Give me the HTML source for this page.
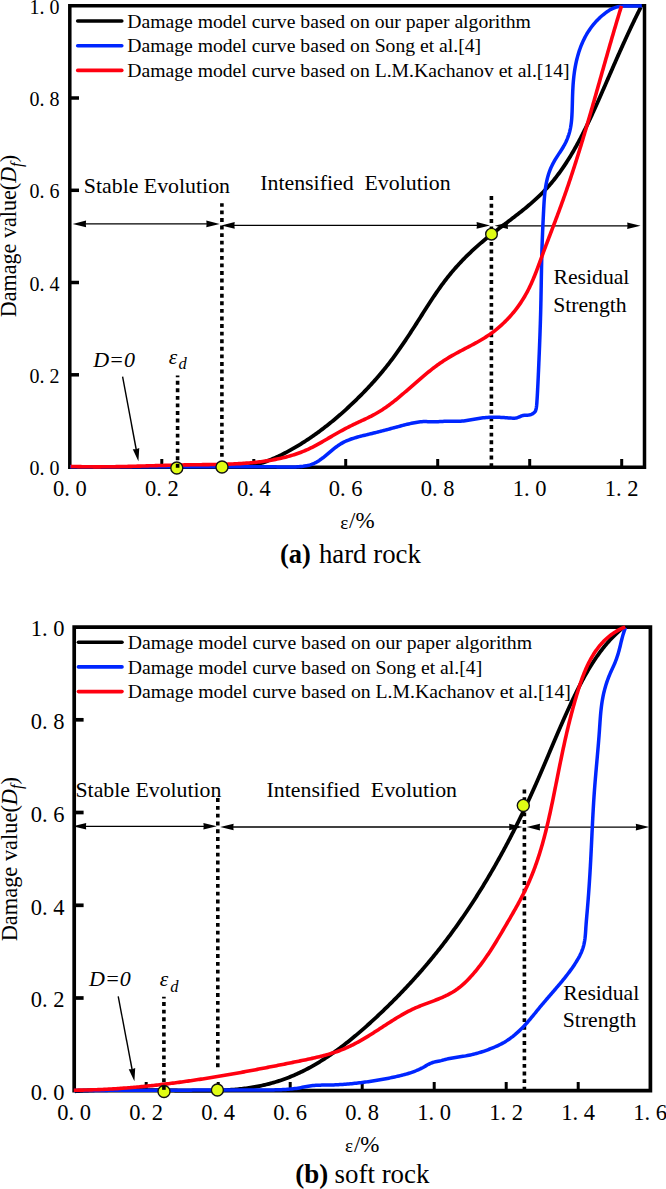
<!DOCTYPE html>
<html><head><meta charset="utf-8"><style>
html,body{margin:0;padding:0;background:#fff;}
body{width:666px;height:1189px;overflow:hidden;}
svg{display:block;}
svg text{font-family:"Liberation Serif", serif;fill:#000;}
</style></head><body>
<svg width="666" height="1189" viewBox="0 0 666 1189">
<path d="M69.8,5.8 H644.5 V467.2 H69.8 Z" fill="none" stroke="#000" stroke-width="3.5"/>
<line x1="161.8" y1="467.2" x2="161.8" y2="459" stroke="#000" stroke-width="3"/>
<line x1="253.8" y1="467.2" x2="253.8" y2="459" stroke="#000" stroke-width="3"/>
<line x1="345.7" y1="467.2" x2="345.7" y2="459" stroke="#000" stroke-width="3"/>
<line x1="437.7" y1="467.2" x2="437.7" y2="459" stroke="#000" stroke-width="3"/>
<line x1="529.7" y1="467.2" x2="529.7" y2="459" stroke="#000" stroke-width="3"/>
<line x1="621.7" y1="467.2" x2="621.7" y2="459" stroke="#000" stroke-width="3"/>
<line x1="69.8" y1="374.8" x2="79" y2="374.8" stroke="#000" stroke-width="3.5"/>
<line x1="69.8" y1="282.5" x2="79" y2="282.5" stroke="#000" stroke-width="3.5"/>
<line x1="69.8" y1="190.3" x2="79" y2="190.3" stroke="#000" stroke-width="3.5"/>
<line x1="69.8" y1="98.0" x2="79" y2="98.0" stroke="#000" stroke-width="3.5"/>
<line x1="177.6" y1="375.4" x2="177.6" y2="467" stroke="#000" stroke-width="3.6" stroke-dasharray="3.9 3.65" stroke-dashoffset="2.15"/>
<line x1="221.9" y1="203.2" x2="221.9" y2="457.2" stroke="#000" stroke-width="3.6" stroke-dasharray="3.9 3.68" stroke-dashoffset="0.38"/>
<line x1="491.4" y1="196.1" x2="491.4" y2="467" stroke="#000" stroke-width="3.6" stroke-dasharray="3.9 3.73" stroke-dashoffset="0.00"/>
<line x1="77.7" y1="223.9" x2="214.7" y2="223.9" stroke="#000" stroke-width="1.3"/><path d="M72.7,223.9 L86.1,220.6 L85.8,223.9 L86.1,227.2 Z" fill="#000"/><path d="M219.7,223.9 L206.3,220.6 L206.6,223.9 L206.3,227.2 Z" fill="#000"/>
<line x1="226.3" y1="225.4" x2="485.0" y2="225.4" stroke="#000" stroke-width="1.3"/><path d="M221.3,225.4 L234.7,222.1 L234.4,225.4 L234.7,228.7 Z" fill="#000"/><path d="M490.0,225.4 L476.6,222.1 L476.9,225.4 L476.6,228.7 Z" fill="#000"/>
<line x1="499.6" y1="225.8" x2="635.6" y2="225.8" stroke="#000" stroke-width="1.3"/><path d="M494.6,225.8 L508.0,222.5 L507.7,225.8 L508.0,229.1 Z" fill="#000"/><path d="M640.6,225.8 L627.2,222.5 L627.5,225.8 L627.2,229.1 Z" fill="#000"/>
<line x1="122.6" y1="376.7" x2="136.4" y2="450.5" stroke="#000" stroke-width="1.4"/><path d="M138.4,461.3 L132.77,449.13 L136.16,449.31 L139.26,447.92 Z" fill="#000"/>
<path d="M70.63,467.03 L72.06,467.03 L73.50,467.02 L74.93,467.01 L76.38,467.01 L77.82,467.00 L79.27,467.00 L80.72,466.99 L82.17,466.99 L83.63,466.98 L85.08,466.98 L86.54,466.98 L88.01,466.98 L89.47,466.98 L90.94,466.98 L92.41,466.97 L93.89,466.97 L95.36,466.97 L96.84,466.98 L98.32,466.98 L99.80,466.98 L101.29,466.98 L102.77,466.98 L104.26,466.98 L105.75,466.98 L107.24,466.99 L108.74,466.99 L110.23,466.99 L111.73,466.99 L113.23,467.00 L114.73,467.00 L116.23,467.00 L117.74,467.01 L119.24,467.01 L120.75,467.01 L122.26,467.01 L123.77,467.02 L125.28,467.02 L126.79,467.02 L128.30,467.02 L129.82,467.02 L131.33,467.03 L132.85,467.03 L134.37,467.03 L135.89,467.03 L137.41,467.03 L138.93,467.03 L140.45,467.03 L141.97,467.03 L143.49,467.03 L145.02,467.03 L146.54,467.03 L148.06,467.03 L149.59,467.03 L151.11,467.02 L152.64,467.02 L154.16,467.02 L155.69,467.01 L157.22,467.01 L158.74,467.00 L160.27,466.99 L161.80,466.99 L163.32,466.98 L164.85,466.97 L166.38,466.96 L167.90,466.95 L169.43,466.94 L170.95,466.93 L172.48,466.92 L174.00,466.91 L175.53,466.89 L177.05,466.88 L178.58,466.86 L180.10,466.85 L181.62,466.83 L183.14,466.81 L184.66,466.79 L186.19,466.77 L187.70,466.75 L189.22,466.73 L190.74,466.70 L192.26,466.68 L193.77,466.66 L195.29,466.63 L196.80,466.61 L198.31,466.59 L199.82,466.57 L201.33,466.55 L202.84,466.53 L204.35,466.52 L205.86,466.51 L207.36,466.51 L208.86,466.51 L210.36,466.51 L211.86,466.52 L213.36,466.54 L214.86,466.56 L216.35,466.59 L217.84,466.62 L219.33,466.67 L220.82,466.72 L222.31,466.77 L223.79,466.82 L225.27,466.87 L226.75,466.93 L228.23,466.97 L229.71,467.01 L231.18,467.04 L232.65,467.07 L234.12,467.07 L235.59,467.07 L237.05,467.05 L238.51,467.01 L239.97,466.95 L241.42,466.87 L242.88,466.76 L244.33,466.63 L245.77,466.48 L247.22,466.29 L248.66,466.07 L250.10,465.83 L251.53,465.57 L252.97,465.27 L254.39,464.96 L255.82,464.61 L257.24,464.25 L258.66,463.86 L260.08,463.45 L261.49,463.02 L262.90,462.57 L264.31,462.09 L265.71,461.60 L267.11,461.09 L268.50,460.56 L269.89,460.01 L271.28,459.45 L272.66,458.87 L274.04,458.28 L275.42,457.67 L276.79,457.04 L278.16,456.41 L279.52,455.76 L280.88,455.10 L282.24,454.42 L283.59,453.74 L284.94,453.04 L286.28,452.34 L287.62,451.63 L288.95,450.91 L290.28,450.18 L291.61,449.44 L292.93,448.69 L294.24,447.93 L295.56,447.17 L296.86,446.40 L298.17,445.62 L299.46,444.83 L300.76,444.03 L302.05,443.23 L303.33,442.41 L304.61,441.59 L305.89,440.77 L307.16,439.93 L308.43,439.09 L309.69,438.24 L310.95,437.39 L312.20,436.52 L313.45,435.65 L314.69,434.78 L315.93,433.89 L317.17,433.01 L318.39,432.11 L319.62,431.21 L320.84,430.30 L322.06,429.39 L323.27,428.47 L324.47,427.54 L325.67,426.61 L326.87,425.68 L328.06,424.73 L329.25,423.79 L330.43,422.84 L331.61,421.88 L332.78,420.92 L333.95,419.95 L335.11,418.98 L336.27,418.00 L337.42,417.02 L338.57,416.04 L339.71,415.05 L340.85,414.06 L341.98,413.06 L343.11,412.06 L344.23,411.05 L345.35,410.05 L346.46,409.03 L347.57,408.02 L348.67,407.00 L349.77,405.98 L350.86,404.95 L351.95,403.93 L353.03,402.90 L354.11,401.86 L355.18,400.83 L356.24,399.79 L357.31,398.75 L358.36,397.70 L359.41,396.66 L360.46,395.61 L361.50,394.56 L362.54,393.51 L363.57,392.45 L364.59,391.39 L365.62,390.33 L366.63,389.26 L367.64,388.19 L368.65,387.12 L369.65,386.05 L370.65,384.97 L371.65,383.88 L372.63,382.79 L373.62,381.70 L374.60,380.61 L375.57,379.51 L376.54,378.40 L377.51,377.29 L378.47,376.18 L379.43,375.06 L380.39,373.93 L381.34,372.80 L382.28,371.67 L383.22,370.53 L384.16,369.38 L385.10,368.23 L386.03,367.07 L386.95,365.91 L387.88,364.74 L388.80,363.56 L389.71,362.38 L390.62,361.19 L391.53,360.00 L392.43,358.80 L393.34,357.59 L394.23,356.38 L395.13,355.15 L396.02,353.93 L396.91,352.69 L397.79,351.45 L398.67,350.21 L399.55,348.96 L400.42,347.71 L401.30,346.45 L402.16,345.18 L403.03,343.92 L403.89,342.65 L404.75,341.37 L405.61,340.09 L406.46,338.81 L407.32,337.53 L408.16,336.25 L409.01,334.96 L409.85,333.67 L410.70,332.38 L411.53,331.09 L412.37,329.80 L413.20,328.51 L414.04,327.22 L414.86,325.93 L415.69,324.64 L416.52,323.35 L417.34,322.06 L418.16,320.77 L418.98,319.49 L419.79,318.20 L420.61,316.92 L421.42,315.64 L422.23,314.37 L423.04,313.09 L423.85,311.82 L424.65,310.55 L425.46,309.29 L426.27,308.03 L427.07,306.77 L427.88,305.51 L428.69,304.26 L429.50,303.01 L430.31,301.77 L431.12,300.52 L431.94,299.28 L432.76,298.05 L433.58,296.82 L434.40,295.59 L435.23,294.36 L436.06,293.14 L436.89,291.93 L437.73,290.71 L438.58,289.51 L439.43,288.30 L440.28,287.10 L441.14,285.90 L442.01,284.71 L442.89,283.52 L443.77,282.34 L444.65,281.16 L445.55,279.99 L446.45,278.82 L447.36,277.65 L448.28,276.49 L449.21,275.33 L450.15,274.18 L451.09,273.03 L452.05,271.89 L453.01,270.76 L453.99,269.62 L454.97,268.50 L455.96,267.38 L456.96,266.26 L457.96,265.15 L458.98,264.04 L460.00,262.94 L461.03,261.85 L462.06,260.76 L463.11,259.68 L464.16,258.60 L465.22,257.53 L466.29,256.46 L467.36,255.40 L468.44,254.35 L469.53,253.30 L470.62,252.26 L471.72,251.22 L472.82,250.19 L473.94,249.16 L475.05,248.15 L476.18,247.14 L477.31,246.13 L478.44,245.13 L479.58,244.14 L480.73,243.16 L481.88,242.18 L483.03,241.21 L484.20,240.24 L485.36,239.28 L486.53,238.33 L487.70,237.38 L488.88,236.43 L490.06,235.49 L491.24,234.56 L492.43,233.62 L493.61,232.70 L494.80,231.77 L496.00,230.85 L497.19,229.93 L498.38,229.02 L499.58,228.10 L500.78,227.19 L501.98,226.28 L503.17,225.37 L504.37,224.46 L505.57,223.55 L506.77,222.65 L507.96,221.74 L509.16,220.83 L510.36,219.92 L511.55,219.01 L512.74,218.10 L513.93,217.19 L515.12,216.28 L516.30,215.36 L517.48,214.45 L518.66,213.52 L519.84,212.60 L521.01,211.67 L522.17,210.74 L523.34,209.81 L524.50,208.87 L525.65,207.93 L526.80,206.98 L527.94,206.02 L529.08,205.07 L530.21,204.10 L531.34,203.13 L532.46,202.15 L533.57,201.17 L534.68,200.18 L535.78,199.18 L536.87,198.17 L537.95,197.16 L539.03,196.14 L540.09,195.11 L541.15,194.07 L542.20,193.02 L543.24,191.96 L544.28,190.90 L545.30,189.82 L546.31,188.73 L547.31,187.64 L548.31,186.53 L549.29,185.41 L550.27,184.28 L551.23,183.15 L552.19,182.00 L553.14,180.85 L554.08,179.69 L555.01,178.52 L555.93,177.34 L556.84,176.15 L557.75,174.96 L558.64,173.75 L559.53,172.54 L560.41,171.32 L561.28,170.10 L562.15,168.86 L563.01,167.62 L563.85,166.37 L564.70,165.12 L565.53,163.86 L566.36,162.59 L567.18,161.32 L567.99,160.04 L568.80,158.76 L569.60,157.46 L570.39,156.17 L571.17,154.87 L571.95,153.56 L572.73,152.25 L573.49,150.93 L574.25,149.61 L575.01,148.29 L575.75,146.96 L576.50,145.62 L577.23,144.28 L577.97,142.94 L578.69,141.60 L579.41,140.25 L580.13,138.90 L580.84,137.54 L581.54,136.18 L582.24,134.82 L582.93,133.46 L583.62,132.09 L584.31,130.73 L584.99,129.36 L585.67,127.98 L586.34,126.61 L587.01,125.24 L587.67,123.86 L588.33,122.48 L588.99,121.10 L589.64,119.72 L590.29,118.34 L590.93,116.96 L591.57,115.58 L592.21,114.20 L592.85,112.82 L593.48,111.44 L594.11,110.06 L594.73,108.68 L595.36,107.30 L595.98,105.92 L596.60,104.54 L597.21,103.16 L597.83,101.79 L598.44,100.42 L599.05,99.04 L599.65,97.67 L600.26,96.31 L600.86,94.94 L601.46,93.57 L602.06,92.21 L602.66,90.85 L603.26,89.49 L603.86,88.13 L604.45,86.77 L605.05,85.41 L605.64,84.05 L606.23,82.70 L606.82,81.34 L607.41,79.99 L608.00,78.63 L608.59,77.28 L609.18,75.93 L609.77,74.57 L610.36,73.22 L610.95,71.87 L611.55,70.52 L612.14,69.17 L612.73,67.82 L613.32,66.46 L613.91,65.11 L614.50,63.76 L615.10,62.41 L615.69,61.06 L616.29,59.70 L616.88,58.35 L617.48,57.00 L618.08,55.64 L618.68,54.29 L619.29,52.93 L619.89,51.57 L620.50,50.21 L621.11,48.86 L621.72,47.50 L622.33,46.13 L622.94,44.77 L623.56,43.41 L624.18,42.04 L624.80,40.67 L625.43,39.31 L626.06,37.94 L626.69,36.56 L627.32,35.19 L627.96,33.81 L628.60,32.44 L629.25,31.06 L629.89,29.67 L630.54,28.29 L631.20,26.90 L631.86,25.51 L632.52,24.12 L633.19,22.73 L633.86,21.33 L634.53,19.93 L635.21,18.53 L635.90,17.12 L636.59,15.72 L637.28,14.31 L637.98,12.89 L638.68,11.48 L639.39,10.05 L640.10,8.63 L640.82,7.20" fill="none" stroke="#000" stroke-width="3.8" stroke-linejoin="round"/>
<path d="M70.07,466.83 L71.56,466.82 L73.06,466.82 L74.55,466.82 L76.04,466.81 L77.54,466.81 L79.03,466.81 L80.53,466.80 L82.03,466.80 L83.52,466.80 L85.02,466.80 L86.52,466.79 L88.02,466.79 L89.51,466.79 L91.01,466.79 L92.51,466.79 L94.01,466.79 L95.51,466.79 L97.01,466.78 L98.51,466.78 L100.01,466.78 L101.51,466.78 L103.02,466.78 L104.52,466.78 L106.02,466.78 L107.52,466.78 L109.03,466.78 L110.53,466.78 L112.03,466.78 L113.53,466.78 L115.04,466.78 L116.54,466.78 L118.05,466.78 L119.55,466.78 L121.05,466.78 L122.56,466.79 L124.06,466.79 L125.57,466.79 L127.07,466.79 L128.58,466.79 L130.08,466.79 L131.59,466.79 L133.10,466.79 L134.60,466.79 L136.11,466.80 L137.61,466.80 L139.12,466.80 L140.62,466.80 L142.13,466.80 L143.64,466.80 L145.14,466.80 L146.65,466.80 L148.15,466.81 L149.66,466.81 L151.17,466.81 L152.67,466.81 L154.18,466.81 L155.68,466.81 L157.19,466.81 L158.69,466.82 L160.20,466.82 L161.71,466.82 L163.21,466.82 L164.72,466.82 L166.22,466.82 L167.73,466.82 L169.23,466.82 L170.74,466.82 L172.24,466.82 L173.75,466.82 L175.25,466.83 L176.75,466.83 L178.26,466.83 L179.76,466.83 L181.26,466.83 L182.77,466.83 L184.27,466.83 L185.77,466.83 L187.28,466.83 L188.78,466.83 L190.28,466.83 L191.78,466.82 L193.28,466.82 L194.78,466.82 L196.29,466.82 L197.79,466.82 L199.29,466.82 L200.79,466.82 L202.28,466.82 L203.78,466.81 L205.28,466.81 L206.78,466.81 L208.28,466.81 L209.78,466.81 L211.27,466.80 L212.77,466.80 L214.27,466.80 L215.76,466.79 L217.26,466.79 L218.75,466.79 L220.25,466.78 L221.74,466.78 L223.24,466.78 L224.73,466.77 L226.23,466.77 L227.72,466.77 L229.22,466.76 L230.71,466.76 L232.21,466.76 L233.70,466.75 L235.20,466.75 L236.70,466.75 L238.19,466.75 L239.69,466.75 L241.19,466.74 L242.69,466.74 L244.18,466.74 L245.68,466.74 L247.18,466.74 L248.69,466.74 L250.19,466.74 L251.69,466.75 L253.19,466.75 L254.70,466.75 L256.20,466.75 L257.71,466.76 L259.22,466.76 L260.73,466.77 L262.24,466.78 L263.75,466.78 L265.26,466.79 L266.78,466.80 L268.29,466.81 L269.81,466.82 L271.33,466.83 L272.85,466.84 L274.37,466.85 L275.89,466.87 L277.42,466.88 L278.95,466.90 L280.48,466.91 L282.01,466.93 L283.54,466.95 L285.07,466.97 L286.61,466.98 L288.14,466.99 L289.67,467.00 L291.20,466.99 L292.72,466.97 L294.23,466.94 L295.74,466.89 L297.25,466.82 L298.74,466.72 L300.22,466.61 L301.69,466.47 L303.15,466.30 L304.59,466.09 L306.02,465.85 L307.44,465.56 L308.83,465.22 L310.21,464.83 L311.57,464.38 L312.91,463.87 L314.23,463.29 L315.52,462.66 L316.80,461.96 L318.06,461.21 L319.31,460.41 L320.54,459.56 L321.76,458.68 L322.97,457.77 L324.17,456.82 L325.36,455.86 L326.55,454.88 L327.74,453.88 L328.93,452.88 L330.12,451.87 L331.31,450.87 L332.50,449.88 L333.71,448.90 L334.92,447.94 L336.14,447.01 L337.37,446.10 L338.62,445.23 L339.88,444.39 L341.16,443.61 L342.46,442.86 L343.77,442.17 L345.10,441.51 L346.45,440.90 L347.81,440.32 L349.18,439.78 L350.57,439.26 L351.97,438.78 L353.37,438.32 L354.79,437.88 L356.21,437.46 L357.64,437.06 L359.08,436.67 L360.52,436.30 L361.96,435.93 L363.41,435.57 L364.86,435.21 L366.31,434.86 L367.76,434.50 L369.21,434.14 L370.66,433.79 L372.11,433.43 L373.56,433.07 L375.01,432.71 L376.46,432.34 L377.92,431.98 L379.37,431.61 L380.82,431.24 L382.28,430.87 L383.73,430.49 L385.19,430.11 L386.65,429.73 L388.11,429.34 L389.56,428.95 L391.02,428.56 L392.48,428.16 L393.95,427.77 L395.41,427.37 L396.87,426.97 L398.34,426.58 L399.80,426.19 L401.27,425.80 L402.74,425.42 L404.20,425.04 L405.67,424.67 L407.14,424.31 L408.62,423.96 L410.09,423.62 L411.56,423.29 L413.03,422.98 L414.51,422.68 L415.98,422.41 L417.46,422.17 L418.94,421.97 L420.42,421.80 L421.90,421.68 L423.38,421.61 L424.86,421.59 L426.34,421.61 L427.82,421.65 L429.31,421.71 L430.79,421.76 L432.28,421.81 L433.76,421.83 L435.25,421.82 L436.74,421.78 L438.23,421.71 L439.72,421.62 L441.21,421.52 L442.70,421.43 L444.20,421.35 L445.69,421.29 L447.18,421.26 L448.68,421.26 L450.17,421.28 L451.67,421.31 L453.16,421.34 L454.66,421.36 L456.16,421.36 L457.65,421.35 L459.15,421.29 L460.65,421.21 L462.15,421.08 L463.65,420.92 L465.14,420.74 L466.64,420.53 L468.14,420.30 L469.64,420.06 L471.14,419.81 L472.64,419.55 L474.14,419.28 L475.63,419.01 L477.13,418.75 L478.63,418.50 L480.13,418.26 L481.63,418.04 L483.13,417.84 L484.62,417.66 L486.12,417.51 L487.62,417.39 L489.11,417.30 L490.61,417.24 L492.10,417.20 L493.59,417.19 L495.09,417.20 L496.58,417.23 L498.07,417.28 L499.55,417.34 L501.04,417.41 L502.52,417.50 L504.01,417.59 L505.49,417.70 L506.96,417.80 L508.44,417.91 L509.91,418.02 L511.38,418.12 L512.84,418.18 L514.31,418.16 L515.76,418.02 L517.22,417.71 L518.67,417.20 L520.12,416.54 L521.56,415.91 L523.00,415.51 L524.44,415.31 L525.87,415.22 L527.29,415.15 L528.72,415.02 L530.13,414.76 L531.54,414.30 L532.91,413.60 L534.13,412.70 L535.07,411.61 L535.70,410.36 L536.10,408.99 L536.37,407.51 L536.57,405.96 L536.73,404.37 L536.86,402.76 L536.96,401.17 L537.06,399.60 L537.16,398.06 L537.25,396.55 L537.34,395.05 L537.42,393.57 L537.50,392.10 L537.58,390.63 L537.65,389.16 L537.73,387.69 L537.80,386.21 L537.88,384.73 L537.95,383.24 L538.02,381.75 L538.09,380.25 L538.16,378.75 L538.23,377.25 L538.30,375.75 L538.36,374.24 L538.43,372.73 L538.50,371.22 L538.56,369.71 L538.63,368.20 L538.69,366.69 L538.76,365.18 L538.82,363.67 L538.88,362.16 L538.95,360.65 L539.01,359.14 L539.07,357.64 L539.13,356.13 L539.20,354.63 L539.26,353.12 L539.32,351.62 L539.38,350.12 L539.44,348.62 L539.50,347.12 L539.56,345.61 L539.61,344.11 L539.67,342.62 L539.73,341.12 L539.78,339.62 L539.84,338.12 L539.89,336.62 L539.95,335.12 L540.00,333.63 L540.05,332.13 L540.10,330.63 L540.15,329.14 L540.20,327.64 L540.25,326.14 L540.30,324.64 L540.35,323.15 L540.39,321.65 L540.44,320.15 L540.48,318.66 L540.52,317.16 L540.57,315.66 L540.61,314.16 L540.65,312.66 L540.69,311.16 L540.72,309.67 L540.76,308.17 L540.79,306.67 L540.83,305.16 L540.86,303.66 L540.89,302.16 L540.93,300.66 L540.96,299.16 L540.99,297.65 L541.01,296.15 L541.04,294.65 L541.07,293.14 L541.10,291.64 L541.13,290.13 L541.15,288.63 L541.18,287.12 L541.21,285.62 L541.23,284.11 L541.26,282.60 L541.28,281.10 L541.31,279.59 L541.34,278.09 L541.36,276.58 L541.39,275.07 L541.42,273.57 L541.45,272.06 L541.48,270.55 L541.50,269.04 L541.53,267.54 L541.56,266.03 L541.60,264.52 L541.63,263.02 L541.66,261.51 L541.70,260.00 L541.73,258.50 L541.77,256.99 L541.81,255.48 L541.84,253.98 L541.88,252.47 L541.93,250.97 L541.97,249.46 L542.01,247.96 L542.06,246.45 L542.11,244.95 L542.16,243.44 L542.21,241.94 L542.27,240.44 L542.32,238.93 L542.38,237.43 L542.44,235.93 L542.50,234.42 L542.56,232.92 L542.62,231.42 L542.69,229.92 L542.76,228.42 L542.82,226.92 L542.89,225.42 L542.96,223.92 L543.03,222.43 L543.10,220.93 L543.18,219.43 L543.25,217.94 L543.32,216.44 L543.40,214.94 L543.47,213.45 L543.55,211.96 L543.63,210.46 L543.70,208.97 L543.78,207.48 L543.86,205.99 L543.94,204.50 L544.03,203.01 L544.12,201.53 L544.23,200.04 L544.34,198.55 L544.46,197.07 L544.59,195.58 L544.73,194.10 L544.89,192.62 L545.06,191.14 L545.25,189.66 L545.46,188.18 L545.68,186.70 L545.93,185.22 L546.19,183.75 L546.48,182.27 L546.79,180.80 L547.13,179.33 L547.50,177.86 L547.89,176.40 L548.32,174.94 L548.77,173.49 L549.26,172.05 L549.79,170.62 L550.35,169.20 L550.95,167.79 L551.58,166.40 L552.25,165.02 L552.95,163.65 L553.67,162.30 L554.42,160.97 L555.18,159.66 L555.96,158.37 L556.75,157.10 L557.55,155.85 L558.36,154.62 L559.16,153.40 L559.96,152.19 L560.76,150.98 L561.55,149.75 L562.33,148.51 L563.09,147.25 L563.83,145.97 L564.56,144.64 L565.26,143.29 L565.93,141.92 L566.57,140.51 L567.18,139.10 L567.75,137.66 L568.28,136.22 L568.77,134.77 L569.21,133.32 L569.61,131.86 L569.97,130.40 L570.30,128.94 L570.59,127.47 L570.84,126.00 L571.07,124.53 L571.27,123.06 L571.44,121.58 L571.59,120.10 L571.71,118.62 L571.82,117.13 L571.91,115.65 L571.99,114.16 L572.06,112.67 L572.12,111.17 L572.17,109.68 L572.21,108.18 L572.26,106.69 L572.30,105.19 L572.34,103.69 L572.38,102.19 L572.42,100.69 L572.46,99.18 L572.50,97.68 L572.55,96.18 L572.60,94.67 L572.66,93.16 L572.72,91.66 L572.79,90.15 L572.87,88.65 L572.95,87.14 L573.04,85.63 L573.14,84.13 L573.26,82.62 L573.38,81.11 L573.52,79.61 L573.67,78.10 L573.83,76.60 L574.01,75.10 L574.20,73.60 L574.41,72.10 L574.63,70.61 L574.86,69.11 L575.11,67.62 L575.38,66.14 L575.67,64.66 L575.97,63.18 L576.29,61.71 L576.62,60.24 L576.98,58.79 L577.35,57.33 L577.74,55.88 L578.15,54.44 L578.58,53.01 L579.03,51.59 L579.50,50.17 L579.99,48.76 L580.50,47.36 L581.03,45.98 L581.58,44.60 L582.16,43.23 L582.76,41.87 L583.38,40.52 L584.02,39.19 L584.69,37.86 L585.38,36.55 L586.10,35.25 L586.84,33.97 L587.60,32.69 L588.39,31.43 L589.21,30.19 L590.05,28.96 L590.92,27.75 L591.82,26.55 L592.74,25.36 L593.70,24.20 L594.67,23.05 L595.68,21.92 L596.71,20.80 L597.77,19.71 L598.86,18.63 L599.97,17.58 L601.10,16.55 L602.26,15.54 L603.44,14.55 L604.65,13.59 L605.87,12.66 L607.12,11.76 L608.39,10.90 L609.67,10.10 L610.98,9.35 L612.31,8.68 L613.65,8.08 L615.01,7.56 L616.39,7.13 L617.79,6.78 L619.20,6.51 L620.63,6.31 L622.07,6.16 L623.52,6.06 L624.99,6.01 L626.47,5.98 L627.97,5.98 L629.47,6.00 L630.99,6.02 L632.51,6.04 L634.05,6.05 L635.60,6.04 L637.15,6.00 L638.71,5.93 L640.28,5.81 L641.86,5.64" fill="none" stroke="#0026ff" stroke-width="3.5" stroke-linejoin="round"/>
<path d="M70.57,466.38 L72.01,466.43 L73.46,466.48 L74.92,466.52 L76.37,466.57 L77.83,466.60 L79.29,466.64 L80.75,466.67 L82.21,466.70 L83.67,466.73 L85.14,466.75 L86.61,466.77 L88.08,466.79 L89.55,466.80 L91.02,466.81 L92.50,466.82 L93.98,466.83 L95.45,466.83 L96.93,466.83 L98.42,466.83 L99.90,466.83 L101.39,466.82 L102.87,466.81 L104.36,466.80 L105.85,466.79 L107.34,466.78 L108.83,466.76 L110.33,466.74 L111.82,466.72 L113.32,466.70 L114.82,466.68 L116.31,466.65 L117.81,466.62 L119.32,466.60 L120.82,466.57 L122.32,466.54 L123.83,466.50 L125.33,466.47 L126.84,466.44 L128.34,466.40 L129.85,466.36 L131.36,466.33 L132.87,466.29 L134.38,466.25 L135.89,466.21 L137.41,466.17 L138.92,466.13 L140.43,466.08 L141.95,466.04 L143.46,466.00 L144.98,465.96 L146.50,465.91 L148.01,465.87 L149.53,465.82 L151.05,465.78 L152.57,465.74 L154.09,465.69 L155.60,465.65 L157.12,465.60 L158.64,465.56 L160.16,465.52 L161.68,465.47 L163.21,465.43 L164.73,465.39 L166.25,465.35 L167.77,465.31 L169.29,465.27 L170.81,465.23 L172.33,465.19 L173.85,465.15 L175.37,465.12 L176.89,465.08 L178.42,465.04 L179.94,465.01 L181.46,464.98 L182.98,464.95 L184.50,464.92 L186.02,464.89 L187.54,464.86 L189.06,464.84 L190.58,464.81 L192.09,464.79 L193.61,464.77 L195.13,464.75 L196.65,464.73 L198.16,464.71 L199.68,464.69 L201.20,464.68 L202.71,464.66 L204.22,464.64 L205.74,464.62 L207.25,464.60 L208.76,464.58 L210.27,464.56 L211.79,464.54 L213.29,464.51 L214.80,464.49 L216.31,464.46 L217.82,464.43 L219.32,464.40 L220.83,464.36 L222.33,464.32 L223.84,464.28 L225.34,464.24 L226.84,464.19 L228.34,464.14 L229.84,464.08 L231.33,464.03 L232.83,463.96 L234.32,463.90 L235.82,463.82 L237.31,463.75 L238.80,463.66 L240.29,463.58 L241.77,463.48 L243.26,463.39 L244.74,463.28 L246.23,463.17 L247.71,463.06 L249.19,462.93 L250.67,462.80 L252.14,462.67 L253.62,462.52 L255.09,462.37 L256.56,462.21 L258.03,462.05 L259.50,461.87 L260.96,461.69 L262.43,461.50 L263.89,461.30 L265.35,461.09 L266.81,460.87 L268.26,460.65 L269.71,460.41 L271.17,460.16 L272.61,459.91 L274.06,459.64 L275.51,459.37 L276.95,459.08 L278.39,458.78 L279.83,458.48 L281.26,458.16 L282.70,457.83 L284.13,457.48 L285.56,457.13 L286.98,456.76 L288.41,456.38 L289.83,455.98 L291.25,455.57 L292.66,455.14 L294.08,454.70 L295.49,454.24 L296.90,453.76 L298.30,453.27 L299.71,452.76 L301.11,452.23 L302.51,451.68 L303.90,451.12 L305.29,450.53 L306.68,449.92 L308.07,449.29 L309.46,448.64 L310.84,447.97 L312.22,447.28 L313.59,446.58 L314.97,445.86 L316.34,445.12 L317.71,444.38 L319.07,443.62 L320.43,442.85 L321.79,442.08 L323.15,441.30 L324.50,440.51 L325.85,439.73 L327.20,438.94 L328.54,438.15 L329.88,437.37 L331.22,436.59 L332.56,435.81 L333.89,435.04 L335.22,434.28 L336.55,433.52 L337.87,432.78 L339.19,432.04 L340.51,431.30 L341.83,430.58 L343.15,429.86 L344.47,429.15 L345.79,428.45 L347.11,427.76 L348.43,427.08 L349.75,426.41 L351.07,425.74 L352.39,425.09 L353.72,424.45 L355.04,423.82 L356.37,423.19 L357.69,422.57 L359.02,421.95 L360.35,421.34 L361.67,420.73 L363.00,420.11 L364.32,419.50 L365.64,418.88 L366.96,418.25 L368.27,417.61 L369.58,416.97 L370.89,416.31 L372.19,415.64 L373.49,414.95 L374.78,414.25 L376.06,413.52 L377.34,412.78 L378.61,412.03 L379.88,411.26 L381.14,410.47 L382.39,409.66 L383.63,408.85 L384.87,408.01 L386.09,407.17 L387.31,406.31 L388.53,405.44 L389.73,404.56 L390.93,403.66 L392.11,402.76 L393.29,401.84 L394.47,400.92 L395.64,399.99 L396.80,399.05 L397.96,398.10 L399.11,397.14 L400.26,396.18 L401.41,395.21 L402.56,394.23 L403.70,393.25 L404.84,392.26 L405.98,391.27 L407.12,390.28 L408.26,389.29 L409.41,388.29 L410.55,387.29 L411.69,386.29 L412.84,385.29 L413.98,384.28 L415.13,383.28 L416.28,382.28 L417.43,381.28 L418.58,380.29 L419.74,379.29 L420.89,378.30 L422.05,377.31 L423.22,376.33 L424.38,375.35 L425.55,374.38 L426.72,373.41 L427.90,372.45 L429.08,371.50 L430.26,370.55 L431.45,369.62 L432.64,368.69 L433.84,367.77 L435.04,366.86 L436.25,365.96 L437.46,365.07 L438.68,364.20 L439.90,363.33 L441.13,362.48 L442.36,361.64 L443.60,360.82 L444.85,360.01 L446.10,359.21 L447.36,358.43 L448.63,357.66 L449.90,356.91 L451.18,356.16 L452.46,355.43 L453.74,354.70 L455.03,353.99 L456.32,353.28 L457.62,352.58 L458.91,351.88 L460.21,351.19 L461.52,350.51 L462.82,349.82 L464.12,349.14 L465.43,348.46 L466.73,347.77 L468.04,347.09 L469.34,346.41 L470.64,345.72 L471.95,345.03 L473.25,344.33 L474.54,343.63 L475.84,342.92 L477.13,342.20 L478.42,341.48 L479.70,340.74 L480.98,340.00 L482.26,339.24 L483.53,338.47 L484.79,337.69 L486.05,336.89 L487.30,336.08 L488.55,335.25 L489.79,334.40 L491.02,333.53 L492.24,332.65 L493.46,331.75 L494.66,330.82 L495.86,329.88 L497.05,328.91 L498.23,327.93 L499.39,326.93 L500.55,325.91 L501.70,324.87 L502.83,323.81 L503.95,322.74 L505.06,321.66 L506.16,320.56 L507.24,319.44 L508.31,318.31 L509.37,317.17 L510.41,316.01 L511.44,314.85 L512.45,313.67 L513.44,312.48 L514.42,311.28 L515.39,310.06 L516.33,308.84 L517.26,307.61 L518.17,306.38 L519.07,305.13 L519.94,303.88 L520.80,302.62 L521.64,301.35 L522.45,300.08 L523.25,298.81 L524.03,297.52 L524.78,296.24 L525.52,294.95 L526.25,293.65 L526.95,292.36 L527.64,291.05 L528.31,289.75 L528.96,288.44 L529.61,287.12 L530.24,285.80 L530.85,284.48 L531.45,283.15 L532.05,281.82 L532.63,280.49 L533.20,279.15 L533.76,277.81 L534.31,276.46 L534.86,275.12 L535.40,273.76 L535.93,272.41 L536.45,271.05 L536.97,269.69 L537.49,268.33 L538.00,266.96 L538.51,265.59 L539.02,264.21 L539.53,262.84 L540.03,261.46 L540.54,260.08 L541.05,258.69 L541.56,257.31 L542.07,255.92 L542.58,254.53 L543.10,253.13 L543.61,251.74 L544.14,250.34 L544.66,248.94 L545.19,247.54 L545.72,246.13 L546.25,244.73 L546.78,243.32 L547.31,241.91 L547.85,240.50 L548.39,239.08 L548.92,237.67 L549.46,236.25 L550.00,234.84 L550.55,233.42 L551.09,232.00 L551.63,230.58 L552.17,229.15 L552.71,227.73 L553.26,226.30 L553.80,224.88 L554.34,223.45 L554.88,222.02 L555.42,220.60 L555.96,219.17 L556.50,217.74 L557.04,216.31 L557.57,214.88 L558.11,213.45 L558.64,212.01 L559.17,210.58 L559.70,209.15 L560.23,207.72 L560.75,206.29 L561.27,204.85 L561.79,203.42 L562.31,201.99 L562.82,200.56 L563.33,199.13 L563.84,197.69 L564.35,196.26 L564.85,194.83 L565.35,193.40 L565.85,191.97 L566.35,190.54 L566.84,189.10 L567.33,187.67 L567.82,186.24 L568.31,184.81 L568.80,183.38 L569.28,181.94 L569.76,180.51 L570.24,179.08 L570.72,177.65 L571.19,176.22 L571.66,174.79 L572.13,173.35 L572.60,171.92 L573.07,170.49 L573.53,169.06 L574.00,167.63 L574.46,166.19 L574.92,164.76 L575.38,163.33 L575.83,161.90 L576.29,160.46 L576.74,159.03 L577.19,157.60 L577.64,156.17 L578.09,154.73 L578.53,153.30 L578.98,151.87 L579.42,150.43 L579.86,149.00 L580.30,147.57 L580.74,146.13 L581.18,144.70 L581.62,143.27 L582.05,141.83 L582.48,140.40 L582.92,138.97 L583.35,137.53 L583.78,136.10 L584.21,134.66 L584.63,133.23 L585.06,131.79 L585.49,130.36 L585.91,128.92 L586.34,127.49 L586.76,126.05 L587.18,124.62 L587.60,123.18 L588.02,121.75 L588.44,120.31 L588.86,118.87 L589.27,117.44 L589.69,116.00 L590.11,114.57 L590.52,113.13 L590.94,111.69 L591.35,110.25 L591.76,108.82 L592.18,107.38 L592.59,105.94 L593.00,104.50 L593.41,103.06 L593.82,101.63 L594.23,100.19 L594.64,98.75 L595.05,97.31 L595.46,95.87 L595.87,94.43 L596.28,92.99 L596.69,91.55 L597.10,90.11 L597.50,88.67 L597.91,87.23 L598.32,85.79 L598.73,84.34 L599.14,82.90 L599.54,81.46 L599.95,80.02 L600.36,78.57 L600.77,77.13 L601.17,75.69 L601.58,74.24 L601.99,72.80 L602.40,71.36 L602.81,69.91 L603.22,68.47 L603.63,67.02 L604.04,65.58 L604.45,64.13 L604.86,62.68 L605.27,61.24 L605.68,59.79 L606.09,58.34 L606.50,56.90 L606.92,55.45 L607.33,54.00 L607.74,52.55 L608.16,51.10 L608.57,49.65 L608.99,48.20 L609.40,46.75 L609.82,45.30 L610.24,43.85 L610.66,42.40 L611.08,40.95 L611.50,39.50 L611.92,38.05 L612.34,36.59 L612.77,35.14 L613.19,33.69 L613.62,32.23 L614.04,30.78 L614.47,29.32 L614.90,27.87 L615.33,26.41 L615.76,24.96 L616.19,23.50 L616.63,22.04 L617.06,20.59 L617.50,19.13 L617.94,17.67 L618.37,16.21 L618.82,14.75 L619.26,13.29 L619.70,11.83 L620.14,10.37 L620.59,8.91 L621.04,7.45 L621.49,5.99" fill="none" stroke="#ff0010" stroke-width="3.6" stroke-linejoin="round"/>
<circle cx="176.8" cy="468.0" r="6.0" fill="#e0fc14" stroke="#111" stroke-width="1.4"/>
<circle cx="222.0" cy="467.0" r="6.0" fill="#e0fc14" stroke="#111" stroke-width="1.4"/>
<circle cx="491.5" cy="234.2" r="5.8" fill="#e0fc14" stroke="#111" stroke-width="1.4"/>
<line x1="177.6" y1="462" x2="177.6" y2="468.5" stroke="#000" stroke-width="3.6" stroke-dasharray="3.9 3.65" stroke-dashoffset="5.70"/>
<line x1="77.7" y1="21.0" x2="121.8" y2="21.0" stroke="#000" stroke-width="3.6" stroke-linecap="round"/>
<line x1="77.7" y1="45.7" x2="121.8" y2="45.7" stroke="#0026ff" stroke-width="3.6" stroke-linecap="round"/>
<line x1="77.7" y1="70.4" x2="121.8" y2="70.4" stroke="#ff0010" stroke-width="3.6" stroke-linecap="round"/>
<text x="127.2" y="27.9" font-size="19.68" >Damage model curve based on our paper algorithm</text>
<text x="127.2" y="51.8" font-size="19.68" >Damage model curve based on Song et al.[4]</text>
<text x="127.2" y="76.5" font-size="19.68" >Damage model curve based on L.M.Kachanov et al.[14]</text>
<text x="59.6" y="475.1" font-size="20" text-anchor="end">0. 0</text>
<text x="59.6" y="382.86" font-size="20" text-anchor="end">0. 2</text>
<text x="59.6" y="290.62" font-size="20" text-anchor="end">0. 4</text>
<text x="59.6" y="198.37999999999997" font-size="20" text-anchor="end">0. 6</text>
<text x="59.6" y="106.13999999999996" font-size="20" text-anchor="end">0. 8</text>
<text x="59.6" y="13.900000000000011" font-size="20" text-anchor="end">1. 0</text>
<text x="69.8" y="496.3" font-size="22.5" text-anchor="middle">0. 0</text>
<text x="161.78" y="496.3" font-size="22.5" text-anchor="middle">0. 2</text>
<text x="253.76" y="496.3" font-size="22.5" text-anchor="middle">0. 4</text>
<text x="345.74000000000007" y="496.3" font-size="22.5" text-anchor="middle">0. 6</text>
<text x="437.72" y="496.3" font-size="22.5" text-anchor="middle">0. 8</text>
<text x="529.6999999999999" y="496.3" font-size="22.5" text-anchor="middle">1. 0</text>
<text x="621.6800000000001" y="496.3" font-size="22.5" text-anchor="middle">1. 2</text>
<text x="83.8" y="193.4" font-size="21.85" >Stable Evolution</text>
<text x="260.2" y="190.2" font-size="21.85" >Intensified&#160; Evolution</text>
<text x="553.5" y="283.9" font-size="21.7" >Residual</text>
<text x="553.2" y="311.7" font-size="21.7" >Strength</text>
<text x="93.2" y="366.5" font-size="22" font-style="italic">D=0</text>
<text x="168.8" y="363.8" font-size="21.5" font-style="italic">ε</text>
<text x="178.6" y="369.0" font-size="16.5" font-style="italic">d</text>
<text x="340.3" y="528.5" font-size="19" >ε</text>
<text x="349.1" y="528.4" font-size="23" >/%</text>
<text x="280" y="563.3" font-size="26.5" font-weight="bold">(a)</text>
<text x="318.9" y="563.3" font-size="26.8">hard rock</text>
<text transform="translate(16.1,317.2) rotate(-90)" font-size="22.1">Damage value(<tspan font-style="italic">D</tspan><tspan font-style="italic" font-size="16.5" dy="5.5">f</tspan><tspan dy="-5.5">)</tspan></text>
<path d="M74.2,627.1 H650.4 V1090.7 H74.2 Z" fill="none" stroke="#000" stroke-width="3.7"/>
<line x1="146.2" y1="1090.7" x2="146.2" y2="1082" stroke="#000" stroke-width="3"/>
<line x1="218.2" y1="1090.7" x2="218.2" y2="1082" stroke="#000" stroke-width="3"/>
<line x1="290.2" y1="1090.7" x2="290.2" y2="1082" stroke="#000" stroke-width="3"/>
<line x1="362.2" y1="1090.7" x2="362.2" y2="1082" stroke="#000" stroke-width="3"/>
<line x1="434.2" y1="1090.7" x2="434.2" y2="1082" stroke="#000" stroke-width="3"/>
<line x1="506.2" y1="1090.7" x2="506.2" y2="1082" stroke="#000" stroke-width="3"/>
<line x1="578.2" y1="1090.7" x2="578.2" y2="1082" stroke="#000" stroke-width="3"/>
<line x1="74.2" y1="998.0" x2="83.6" y2="998.0" stroke="#000" stroke-width="3.7"/>
<line x1="74.2" y1="905.3" x2="83.6" y2="905.3" stroke="#000" stroke-width="3.7"/>
<line x1="74.2" y1="812.5" x2="83.6" y2="812.5" stroke="#000" stroke-width="3.7"/>
<line x1="74.2" y1="719.8" x2="83.6" y2="719.8" stroke="#000" stroke-width="3.7"/>
<line x1="163.9" y1="996.8" x2="163.9" y2="1090" stroke="#000" stroke-width="3.6" stroke-dasharray="3.9 3.72" stroke-dashoffset="2.32"/>
<line x1="217.8" y1="798.1" x2="217.8" y2="1068.5" stroke="#000" stroke-width="3.6" stroke-dasharray="3.9 3.90" stroke-dashoffset="0.00"/>
<line x1="524.4" y1="789.6" x2="524.4" y2="1090" stroke="#000" stroke-width="3.6" stroke-dasharray="3.9 3.72" stroke-dashoffset="0.00"/>
<line x1="77.8" y1="826.3" x2="211.8" y2="826.3" stroke="#000" stroke-width="1.3"/><path d="M72.8,826.3 L86.2,823.0 L85.9,826.3 L86.2,829.6 Z" fill="#000"/><path d="M216.8,826.3 L203.4,823.0 L203.7,826.3 L203.4,829.6 Z" fill="#000"/>
<line x1="225.2" y1="827.0" x2="517.5" y2="827.0" stroke="#000" stroke-width="1.3"/><path d="M220.2,827.0 L233.6,823.7 L233.3,827.0 L233.6,830.3 Z" fill="#000"/><path d="M522.5,827.0 L509.1,823.7 L509.4,827.0 L509.1,830.3 Z" fill="#000"/>
<line x1="531.6" y1="827.1" x2="644.2" y2="827.1" stroke="#000" stroke-width="1.3"/><path d="M526.6,827.1 L540.0,823.8 L539.7,827.1 L540.0,830.4 Z" fill="#000"/><path d="M649.2,827.1 L635.8,823.8 L636.1,827.1 L635.8,830.4 Z" fill="#000"/>
<line x1="118.2" y1="996.3" x2="132.3" y2="1070.5" stroke="#000" stroke-width="1.4"/><path d="M134.4,1081.3 L128.72,1069.15 L132.12,1069.32 L135.21,1067.91 Z" fill="#000"/>
<path d="M74.83,1091.27 L76.27,1091.17 L77.70,1091.07 L79.14,1090.98 L80.59,1090.89 L82.03,1090.80 L83.48,1090.72 L84.93,1090.64 L86.39,1090.57 L87.84,1090.50 L89.30,1090.43 L90.76,1090.37 L92.23,1090.31 L93.69,1090.26 L95.16,1090.21 L96.63,1090.16 L98.11,1090.12 L99.58,1090.08 L101.06,1090.04 L102.54,1090.01 L104.02,1089.97 L105.51,1089.95 L106.99,1089.92 L108.48,1089.90 L109.97,1089.88 L111.46,1089.86 L112.96,1089.85 L114.45,1089.84 L115.95,1089.83 L117.45,1089.82 L118.95,1089.81 L120.45,1089.81 L121.96,1089.81 L123.46,1089.81 L124.97,1089.82 L126.48,1089.82 L127.99,1089.83 L129.50,1089.84 L131.01,1089.85 L132.52,1089.86 L134.04,1089.87 L135.55,1089.89 L137.07,1089.90 L138.59,1089.92 L140.11,1089.94 L141.63,1089.96 L143.15,1089.98 L144.67,1090.00 L146.19,1090.02 L147.71,1090.05 L149.24,1090.07 L150.76,1090.09 L152.29,1090.12 L153.81,1090.14 L155.34,1090.17 L156.86,1090.19 L158.39,1090.22 L159.92,1090.24 L161.44,1090.27 L162.97,1090.30 L164.50,1090.32 L166.03,1090.35 L167.56,1090.37 L169.08,1090.40 L170.61,1090.42 L172.14,1090.44 L173.67,1090.47 L175.20,1090.49 L176.72,1090.51 L178.25,1090.53 L179.78,1090.55 L181.31,1090.57 L182.83,1090.58 L184.36,1090.60 L185.88,1090.61 L187.41,1090.63 L188.93,1090.64 L190.46,1090.65 L191.98,1090.66 L193.50,1090.66 L195.03,1090.67 L196.55,1090.67 L198.07,1090.67 L199.59,1090.67 L201.11,1090.67 L202.62,1090.66 L204.14,1090.65 L205.66,1090.64 L207.17,1090.63 L208.68,1090.61 L210.20,1090.59 L211.71,1090.57 L213.22,1090.54 L214.72,1090.50 L216.23,1090.47 L217.74,1090.42 L219.24,1090.37 L220.74,1090.32 L222.24,1090.26 L223.74,1090.20 L225.24,1090.12 L226.74,1090.05 L228.23,1089.96 L229.72,1089.87 L231.21,1089.77 L232.70,1089.66 L234.19,1089.55 L235.67,1089.42 L237.15,1089.29 L238.63,1089.15 L240.11,1089.00 L241.59,1088.84 L243.06,1088.67 L244.53,1088.49 L246.00,1088.31 L247.47,1088.11 L248.93,1087.90 L250.39,1087.68 L251.85,1087.45 L253.31,1087.20 L254.76,1086.95 L256.21,1086.69 L257.66,1086.41 L259.10,1086.12 L260.55,1085.82 L261.99,1085.51 L263.42,1085.19 L264.86,1084.86 L266.29,1084.51 L267.72,1084.16 L269.14,1083.79 L270.56,1083.41 L271.98,1083.02 L273.40,1082.62 L274.81,1082.20 L276.22,1081.78 L277.62,1081.34 L279.02,1080.89 L280.42,1080.43 L281.82,1079.96 L283.21,1079.47 L284.59,1078.97 L285.98,1078.47 L287.36,1077.95 L288.73,1077.41 L290.11,1076.87 L291.48,1076.31 L292.84,1075.74 L294.20,1075.16 L295.56,1074.57 L296.91,1073.97 L298.26,1073.35 L299.60,1072.72 L300.95,1072.08 L302.28,1071.43 L303.62,1070.77 L304.94,1070.10 L306.27,1069.42 L307.59,1068.73 L308.91,1068.02 L310.22,1067.31 L311.53,1066.58 L312.84,1065.85 L314.14,1065.11 L315.44,1064.35 L316.73,1063.59 L318.02,1062.82 L319.31,1062.04 L320.59,1061.24 L321.87,1060.45 L323.15,1059.64 L324.42,1058.82 L325.69,1058.00 L326.95,1057.16 L328.21,1056.32 L329.47,1055.47 L330.72,1054.61 L331.97,1053.75 L333.21,1052.88 L334.46,1052.00 L335.69,1051.11 L336.93,1050.22 L338.16,1049.32 L339.39,1048.41 L340.61,1047.50 L341.83,1046.58 L343.05,1045.65 L344.26,1044.72 L345.47,1043.78 L346.67,1042.84 L347.87,1041.89 L349.07,1040.93 L350.27,1039.97 L351.46,1039.01 L352.65,1038.03 L353.83,1037.06 L355.01,1036.08 L356.19,1035.10 L357.36,1034.11 L358.53,1033.11 L359.70,1032.12 L360.86,1031.12 L362.02,1030.11 L363.17,1029.10 L364.33,1028.09 L365.47,1027.08 L366.62,1026.06 L367.76,1025.04 L368.90,1024.02 L370.04,1022.99 L371.17,1021.96 L372.30,1020.93 L373.42,1019.90 L374.54,1018.86 L375.66,1017.82 L376.78,1016.79 L377.89,1015.75 L378.99,1014.70 L380.10,1013.66 L381.20,1012.62 L382.30,1011.57 L383.39,1010.52 L384.49,1009.47 L385.57,1008.42 L386.66,1007.36 L387.74,1006.31 L388.82,1005.25 L389.89,1004.19 L390.97,1003.13 L392.03,1002.07 L393.10,1001.01 L394.16,999.94 L395.22,998.87 L396.28,997.80 L397.33,996.73 L398.38,995.66 L399.43,994.58 L400.47,993.50 L401.51,992.42 L402.55,991.34 L403.58,990.26 L404.61,989.17 L405.64,988.09 L406.66,987.00 L407.68,985.90 L408.70,984.81 L409.72,983.71 L410.73,982.62 L411.74,981.52 L412.74,980.41 L413.75,979.31 L414.75,978.20 L415.74,977.09 L416.74,975.98 L417.73,974.87 L418.71,973.75 L419.70,972.63 L420.68,971.51 L421.66,970.39 L422.64,969.26 L423.61,968.13 L424.58,967.00 L425.55,965.87 L426.51,964.74 L427.47,963.60 L428.43,962.46 L429.38,961.32 L430.34,960.17 L431.29,959.02 L432.23,957.87 L433.18,956.72 L434.12,955.56 L435.06,954.41 L435.99,953.24 L436.93,952.08 L437.85,950.92 L438.78,949.75 L439.71,948.57 L440.63,947.40 L441.55,946.22 L442.46,945.04 L443.38,943.86 L444.29,942.68 L445.19,941.49 L446.10,940.30 L447.00,939.11 L447.90,937.91 L448.80,936.71 L449.69,935.51 L450.58,934.31 L451.47,933.10 L452.35,931.90 L453.24,930.69 L454.12,929.47 L454.99,928.26 L455.87,927.04 L456.74,925.82 L457.61,924.60 L458.48,923.38 L459.34,922.15 L460.20,920.92 L461.06,919.69 L461.92,918.45 L462.77,917.22 L463.62,915.98 L464.47,914.74 L465.31,913.50 L466.16,912.25 L467.00,911.00 L467.83,909.76 L468.67,908.50 L469.50,907.25 L470.33,906.00 L471.16,904.74 L471.98,903.48 L472.80,902.22 L473.62,900.95 L474.44,899.69 L475.25,898.42 L476.06,897.15 L476.87,895.88 L477.68,894.60 L478.48,893.33 L479.28,892.05 L480.08,890.77 L480.87,889.49 L481.67,888.21 L482.46,886.92 L483.24,885.64 L484.03,884.35 L484.81,883.06 L485.59,881.77 L486.37,880.47 L487.15,879.18 L487.92,877.88 L488.69,876.58 L489.46,875.28 L490.22,873.98 L490.98,872.67 L491.74,871.37 L492.50,870.06 L493.26,868.75 L494.01,867.44 L494.76,866.13 L495.50,864.82 L496.25,863.50 L496.99,862.19 L497.73,860.87 L498.47,859.55 L499.21,858.23 L499.94,856.91 L500.67,855.58 L501.40,854.26 L502.12,852.93 L502.84,851.61 L503.56,850.28 L504.28,848.95 L505.00,847.62 L505.71,846.28 L506.42,844.95 L507.13,843.61 L507.84,842.28 L508.54,840.94 L509.24,839.60 L509.94,838.26 L510.64,836.92 L511.33,835.58 L512.02,834.23 L512.71,832.89 L513.40,831.54 L514.08,830.20 L514.76,828.85 L515.44,827.50 L516.12,826.15 L516.79,824.80 L517.47,823.45 L518.14,822.09 L518.81,820.74 L519.47,819.39 L520.13,818.03 L520.80,816.67 L521.45,815.32 L522.11,813.96 L522.76,812.60 L523.42,811.24 L524.07,809.88 L524.71,808.52 L525.36,807.16 L526.00,805.79 L526.64,804.43 L527.28,803.06 L527.91,801.70 L528.55,800.33 L529.18,798.97 L529.81,797.60 L530.43,796.23 L531.06,794.86 L531.68,793.50 L532.30,792.13 L532.92,790.76 L533.53,789.39 L534.15,788.01 L534.76,786.64 L535.37,785.27 L535.97,783.90 L536.58,782.53 L537.18,781.15 L537.78,779.78 L538.38,778.40 L538.98,777.03 L539.57,775.65 L540.17,774.28 L540.76,772.90 L541.35,771.53 L541.94,770.15 L542.53,768.77 L543.12,767.40 L543.71,766.02 L544.30,764.64 L544.88,763.27 L545.47,761.89 L546.05,760.51 L546.64,759.13 L547.22,757.75 L547.81,756.38 L548.39,755.00 L548.97,753.62 L549.56,752.24 L550.14,750.86 L550.72,749.48 L551.31,748.10 L551.89,746.72 L552.48,745.34 L553.06,743.97 L553.65,742.59 L554.23,741.21 L554.82,739.83 L555.41,738.45 L556.00,737.07 L556.59,735.69 L557.18,734.31 L557.77,732.94 L558.36,731.56 L558.96,730.18 L559.56,728.80 L560.15,727.43 L560.75,726.05 L561.36,724.67 L561.96,723.29 L562.57,721.92 L563.17,720.54 L563.78,719.17 L564.39,717.79 L565.01,716.41 L565.62,715.04 L566.24,713.66 L566.87,712.29 L567.49,710.92 L568.12,709.54 L568.75,708.17 L569.38,706.80 L570.01,705.43 L570.65,704.05 L571.30,702.68 L571.94,701.31 L572.59,699.94 L573.24,698.57 L573.90,697.20 L574.56,695.84 L575.22,694.47 L575.89,693.11 L576.56,691.75 L577.24,690.39 L577.92,689.03 L578.61,687.67 L579.30,686.32 L579.99,684.97 L580.69,683.62 L581.40,682.28 L582.11,680.94 L582.83,679.61 L583.55,678.28 L584.28,676.95 L585.02,675.63 L585.76,674.31 L586.51,673.00 L587.27,671.69 L588.03,670.39 L588.80,669.10 L589.57,667.81 L590.36,666.52 L591.15,665.25 L591.94,663.98 L592.75,662.71 L593.56,661.46 L594.39,660.21 L595.22,658.97 L596.05,657.74 L596.90,656.51 L597.76,655.29 L598.62,654.09 L599.49,652.89 L600.37,651.70 L601.27,650.52 L602.17,649.34 L603.08,648.18 L604.00,647.03 L604.93,645.89 L605.87,644.76 L606.82,643.64 L607.78,642.52 L608.75,641.43 L609.73,640.34 L610.72,639.26 L611.72,638.20 L612.74,637.14 L613.76,636.10 L614.80,635.08 L615.85,634.06 L616.91,633.06 L617.98,632.07 L619.07,631.09 L620.16,630.13 L621.27,629.18 L622.39,628.25 L623.53,627.33" fill="none" stroke="#000" stroke-width="3.8" stroke-linejoin="round"/>
<path d="M73.93,1090.52 L75.43,1090.51 L76.94,1090.50 L78.45,1090.50 L79.96,1090.49 L81.47,1090.48 L82.97,1090.47 L84.48,1090.47 L85.99,1090.46 L87.50,1090.45 L89.00,1090.45 L90.51,1090.44 L92.02,1090.43 L93.53,1090.43 L95.03,1090.42 L96.54,1090.42 L98.05,1090.41 L99.55,1090.40 L101.06,1090.40 L102.57,1090.39 L104.07,1090.39 L105.58,1090.38 L107.08,1090.38 L108.59,1090.37 L110.10,1090.37 L111.60,1090.36 L113.11,1090.36 L114.61,1090.35 L116.12,1090.35 L117.62,1090.34 L119.13,1090.34 L120.63,1090.33 L122.14,1090.33 L123.64,1090.33 L125.15,1090.32 L126.65,1090.32 L128.16,1090.31 L129.66,1090.31 L131.17,1090.30 L132.67,1090.30 L134.18,1090.30 L135.68,1090.29 L137.19,1090.29 L138.69,1090.28 L140.19,1090.28 L141.70,1090.28 L143.20,1090.27 L144.71,1090.27 L146.21,1090.27 L147.71,1090.26 L149.22,1090.26 L150.72,1090.25 L152.22,1090.25 L153.73,1090.25 L155.23,1090.24 L156.73,1090.24 L158.24,1090.23 L159.74,1090.23 L161.24,1090.22 L162.75,1090.22 L164.25,1090.22 L165.75,1090.21 L167.25,1090.21 L168.76,1090.20 L170.26,1090.20 L171.76,1090.19 L173.26,1090.19 L174.77,1090.18 L176.27,1090.18 L177.77,1090.18 L179.27,1090.17 L180.78,1090.17 L182.28,1090.16 L183.78,1090.15 L185.28,1090.15 L186.78,1090.14 L188.28,1090.14 L189.79,1090.13 L191.29,1090.13 L192.79,1090.12 L194.29,1090.11 L195.79,1090.11 L197.29,1090.10 L198.80,1090.09 L200.30,1090.09 L201.80,1090.08 L203.30,1090.07 L204.80,1090.07 L206.30,1090.06 L207.80,1090.05 L209.30,1090.04 L210.81,1090.04 L212.31,1090.03 L213.81,1090.02 L215.31,1090.01 L216.81,1090.00 L218.31,1089.99 L219.81,1089.99 L221.31,1089.98 L222.81,1089.97 L224.31,1089.96 L225.81,1089.95 L227.31,1089.94 L228.81,1089.94 L230.32,1089.93 L231.82,1089.92 L233.32,1089.92 L234.82,1089.91 L236.32,1089.91 L237.82,1089.91 L239.32,1089.90 L240.82,1089.90 L242.32,1089.90 L243.82,1089.90 L245.32,1089.91 L246.82,1089.91 L248.32,1089.91 L249.82,1089.92 L251.32,1089.93 L252.82,1089.94 L254.32,1089.95 L255.82,1089.96 L257.32,1089.96 L258.82,1089.97 L260.32,1089.98 L261.82,1089.98 L263.32,1089.99 L264.82,1089.99 L266.32,1089.98 L267.82,1089.98 L269.32,1089.97 L270.82,1089.95 L272.32,1089.93 L273.82,1089.90 L275.32,1089.87 L276.82,1089.83 L278.32,1089.78 L279.82,1089.73 L281.32,1089.67 L282.82,1089.60 L284.32,1089.52 L285.82,1089.43 L287.32,1089.33 L288.81,1089.22 L290.31,1089.09 L291.81,1088.95 L293.31,1088.79 L294.81,1088.60 L296.31,1088.40 L297.81,1088.17 L299.31,1087.91 L300.81,1087.63 L302.31,1087.34 L303.81,1087.03 L305.31,1086.73 L306.81,1086.44 L308.31,1086.17 L309.81,1085.91 L311.31,1085.70 L312.81,1085.52 L314.31,1085.38 L315.81,1085.28 L317.31,1085.21 L318.81,1085.16 L320.31,1085.14 L321.81,1085.12 L323.31,1085.11 L324.81,1085.11 L326.31,1085.09 L327.81,1085.07 L329.31,1085.05 L330.81,1085.01 L332.31,1084.97 L333.81,1084.91 L335.31,1084.85 L336.81,1084.79 L338.31,1084.71 L339.81,1084.62 L341.31,1084.53 L342.81,1084.43 L344.30,1084.32 L345.80,1084.21 L347.30,1084.08 L348.80,1083.95 L350.30,1083.81 L351.79,1083.67 L353.29,1083.52 L354.78,1083.36 L356.28,1083.19 L357.77,1083.02 L359.26,1082.85 L360.76,1082.66 L362.25,1082.47 L363.73,1082.28 L365.22,1082.07 L366.71,1081.87 L368.20,1081.66 L369.68,1081.44 L371.16,1081.22 L372.64,1080.99 L374.12,1080.75 L375.60,1080.52 L377.08,1080.27 L378.55,1080.03 L380.02,1079.78 L381.49,1079.52 L382.96,1079.26 L384.43,1079.00 L385.89,1078.73 L387.36,1078.45 L388.82,1078.17 L390.27,1077.88 L391.73,1077.59 L393.18,1077.28 L394.63,1076.97 L396.08,1076.65 L397.53,1076.32 L398.97,1075.98 L400.41,1075.63 L401.85,1075.27 L403.28,1074.90 L404.71,1074.51 L406.14,1074.12 L407.57,1073.70 L408.99,1073.27 L410.41,1072.82 L411.82,1072.34 L413.24,1071.84 L414.65,1071.31 L416.05,1070.75 L417.45,1070.16 L418.85,1069.54 L420.25,1068.88 L421.64,1068.18 L423.03,1067.44 L424.41,1066.66 L425.79,1065.87 L427.17,1065.08 L428.55,1064.33 L429.93,1063.64 L431.31,1063.02 L432.69,1062.50 L434.07,1062.08 L435.45,1061.74 L436.84,1061.45 L438.24,1061.19 L439.64,1060.92 L441.04,1060.62 L442.45,1060.27 L443.88,1059.88 L445.30,1059.51 L446.74,1059.16 L448.19,1058.83 L449.65,1058.53 L451.11,1058.25 L452.58,1057.99 L454.05,1057.74 L455.53,1057.50 L457.01,1057.27 L458.49,1057.05 L459.98,1056.82 L461.47,1056.59 L462.96,1056.35 L464.45,1056.11 L465.94,1055.85 L467.43,1055.58 L468.92,1055.29 L470.40,1054.98 L471.88,1054.64 L473.36,1054.28 L474.83,1053.91 L476.29,1053.51 L477.76,1053.10 L479.21,1052.67 L480.66,1052.23 L482.11,1051.76 L483.55,1051.29 L484.98,1050.79 L486.40,1050.29 L487.82,1049.77 L489.22,1049.24 L490.62,1048.70 L492.01,1048.15 L493.39,1047.59 L494.76,1047.01 L496.11,1046.41 L497.46,1045.80 L498.80,1045.17 L500.12,1044.51 L501.43,1043.84 L502.73,1043.14 L504.02,1042.41 L505.29,1041.65 L506.55,1040.87 L507.80,1040.06 L509.03,1039.22 L510.25,1038.35 L511.45,1037.46 L512.64,1036.55 L513.81,1035.61 L514.98,1034.65 L516.12,1033.67 L517.26,1032.67 L518.37,1031.66 L519.48,1030.62 L520.57,1029.57 L521.65,1028.51 L522.71,1027.43 L523.75,1026.33 L524.79,1025.23 L525.81,1024.11 L526.82,1022.98 L527.82,1021.85 L528.81,1020.70 L529.79,1019.55 L530.76,1018.40 L531.73,1017.23 L532.69,1016.07 L533.65,1014.90 L534.60,1013.73 L535.55,1012.56 L536.50,1011.39 L537.45,1010.22 L538.40,1009.06 L539.35,1007.90 L540.31,1006.74 L541.26,1005.59 L542.22,1004.44 L543.18,1003.29 L544.15,1002.16 L545.11,1001.02 L546.08,999.89 L547.05,998.76 L548.02,997.63 L548.99,996.50 L549.97,995.37 L550.94,994.25 L551.91,993.12 L552.88,992.00 L553.86,990.87 L554.83,989.74 L555.80,988.61 L556.77,987.48 L557.73,986.35 L558.70,985.21 L559.66,984.07 L560.62,982.92 L561.58,981.77 L562.53,980.62 L563.48,979.45 L564.42,978.29 L565.36,977.11 L566.29,975.93 L567.21,974.74 L568.13,973.55 L569.04,972.34 L569.94,971.13 L570.83,969.90 L571.71,968.67 L572.58,967.43 L573.44,966.17 L574.28,964.91 L575.12,963.63 L575.94,962.34 L576.75,961.04 L577.54,959.72 L578.31,958.40 L579.05,957.06 L579.76,955.71 L580.43,954.35 L581.07,952.98 L581.66,951.60 L582.20,950.21 L582.69,948.81 L583.13,947.41 L583.54,945.99 L583.90,944.57 L584.21,943.14 L584.49,941.70 L584.74,940.25 L584.95,938.80 L585.12,937.34 L585.27,935.88 L585.40,934.41 L585.52,932.93 L585.62,931.45 L585.72,929.97 L585.81,928.48 L585.91,926.99 L586.01,925.50 L586.12,924.00 L586.24,922.50 L586.36,920.99 L586.49,919.49 L586.62,917.98 L586.75,916.48 L586.88,914.97 L587.02,913.46 L587.15,911.96 L587.28,910.45 L587.41,908.94 L587.53,907.43 L587.66,905.93 L587.78,904.42 L587.90,902.92 L588.02,901.41 L588.14,899.91 L588.25,898.40 L588.36,896.90 L588.48,895.39 L588.59,893.89 L588.70,892.39 L588.80,890.88 L588.91,889.38 L589.01,887.88 L589.12,886.38 L589.22,884.88 L589.32,883.37 L589.42,881.87 L589.51,880.37 L589.61,878.87 L589.70,877.37 L589.80,875.87 L589.89,874.37 L589.98,872.87 L590.07,871.37 L590.15,869.87 L590.24,868.37 L590.33,866.87 L590.41,865.37 L590.49,863.87 L590.58,862.37 L590.66,860.87 L590.74,859.37 L590.81,857.87 L590.89,856.37 L590.97,854.87 L591.04,853.37 L591.12,851.87 L591.19,850.37 L591.27,848.87 L591.34,847.37 L591.41,845.87 L591.48,844.37 L591.56,842.87 L591.63,841.37 L591.70,839.87 L591.77,838.37 L591.84,836.87 L591.91,835.37 L591.98,833.87 L592.05,832.37 L592.12,830.86 L592.20,829.36 L592.27,827.86 L592.34,826.36 L592.41,824.86 L592.49,823.36 L592.56,821.86 L592.64,820.36 L592.72,818.86 L592.79,817.36 L592.87,815.86 L592.95,814.36 L593.03,812.86 L593.12,811.36 L593.20,809.86 L593.28,808.36 L593.37,806.86 L593.46,805.36 L593.55,803.86 L593.64,802.36 L593.74,800.86 L593.83,799.36 L593.93,797.86 L594.03,796.36 L594.13,794.86 L594.24,793.36 L594.34,791.86 L594.45,790.36 L594.56,788.86 L594.68,787.36 L594.79,785.86 L594.91,784.36 L595.03,782.86 L595.15,781.36 L595.28,779.86 L595.40,778.36 L595.53,776.86 L595.66,775.36 L595.78,773.86 L595.91,772.36 L596.04,770.86 L596.18,769.36 L596.31,767.86 L596.44,766.36 L596.57,764.86 L596.71,763.36 L596.84,761.86 L596.97,760.36 L597.10,758.86 L597.24,757.36 L597.37,755.86 L597.50,754.37 L597.63,752.87 L597.76,751.37 L597.89,749.87 L598.02,748.37 L598.15,746.87 L598.27,745.37 L598.40,743.87 L598.52,742.37 L598.64,740.87 L598.76,739.37 L598.88,737.87 L599.00,736.37 L599.11,734.87 L599.22,733.37 L599.33,731.87 L599.44,730.37 L599.54,728.87 L599.64,727.38 L599.74,725.88 L599.85,724.38 L599.95,722.88 L600.05,721.38 L600.16,719.89 L600.27,718.39 L600.39,716.90 L600.51,715.40 L600.64,713.91 L600.78,712.42 L600.92,710.93 L601.08,709.44 L601.25,707.96 L601.43,706.47 L601.62,704.99 L601.83,703.51 L602.05,702.04 L602.29,700.56 L602.54,699.09 L602.82,697.62 L603.10,696.15 L603.41,694.69 L603.73,693.23 L604.07,691.77 L604.43,690.32 L604.81,688.87 L605.21,687.42 L605.63,685.98 L606.06,684.54 L606.52,683.10 L606.99,681.67 L607.49,680.25 L608.01,678.83 L608.55,677.41 L609.11,676.00 L609.69,674.59 L610.29,673.18 L610.91,671.79 L611.54,670.39 L612.18,669.00 L612.81,667.61 L613.44,666.23 L614.06,664.84 L614.66,663.46 L615.23,662.07 L615.77,660.69 L616.29,659.31 L616.78,657.92 L617.25,656.54 L617.70,655.15 L618.13,653.75 L618.53,652.36 L618.92,650.96 L619.30,649.55 L619.66,648.14 L620.01,646.73 L620.35,645.31 L620.69,643.88 L621.03,642.44 L621.38,641.00 L621.74,639.54 L622.12,638.08 L622.51,636.60 L622.93,635.12 L623.37,633.63 L623.84,632.12 L624.35,630.60 L624.89,629.07 L625.48,627.52" fill="none" stroke="#0026ff" stroke-width="3.5" stroke-linejoin="round"/>
<path d="M73.83,1090.22 L75.35,1090.21 L76.87,1090.19 L78.39,1090.17 L79.90,1090.15 L81.42,1090.13 L82.93,1090.10 L84.45,1090.07 L85.96,1090.03 L87.48,1089.99 L88.99,1089.95 L90.50,1089.91 L92.01,1089.86 L93.52,1089.81 L95.03,1089.76 L96.54,1089.70 L98.05,1089.64 L99.56,1089.58 L101.07,1089.51 L102.58,1089.44 L104.08,1089.37 L105.59,1089.30 L107.09,1089.22 L108.60,1089.14 L110.10,1089.05 L111.61,1088.97 L113.11,1088.88 L114.61,1088.78 L116.12,1088.69 L117.62,1088.59 L119.12,1088.49 L120.62,1088.38 L122.12,1088.28 L123.62,1088.17 L125.12,1088.06 L126.62,1087.94 L128.12,1087.82 L129.62,1087.70 L131.11,1087.58 L132.61,1087.45 L134.11,1087.32 L135.60,1087.19 L137.10,1087.06 L138.60,1086.92 L140.09,1086.79 L141.59,1086.64 L143.08,1086.50 L144.57,1086.35 L146.07,1086.21 L147.56,1086.05 L149.05,1085.90 L150.54,1085.75 L152.04,1085.59 L153.53,1085.43 L155.02,1085.26 L156.51,1085.10 L158.00,1084.93 L159.49,1084.76 L160.98,1084.59 L162.47,1084.41 L163.96,1084.24 L165.45,1084.06 L166.93,1083.87 L168.42,1083.69 L169.91,1083.51 L171.40,1083.32 L172.88,1083.13 L174.37,1082.93 L175.86,1082.74 L177.34,1082.54 L178.83,1082.35 L180.31,1082.15 L181.80,1081.94 L183.29,1081.74 L184.77,1081.53 L186.25,1081.32 L187.74,1081.11 L189.22,1080.90 L190.71,1080.69 L192.19,1080.47 L193.67,1080.25 L195.16,1080.03 L196.64,1079.81 L198.12,1079.59 L199.61,1079.36 L201.09,1079.14 L202.57,1078.91 L204.05,1078.68 L205.53,1078.44 L207.02,1078.21 L208.50,1077.97 L209.98,1077.74 L211.46,1077.50 L212.94,1077.26 L214.42,1077.02 L215.90,1076.77 L217.38,1076.53 L218.86,1076.28 L220.34,1076.03 L221.82,1075.78 L223.31,1075.53 L224.79,1075.28 L226.27,1075.02 L227.75,1074.77 L229.22,1074.51 L230.70,1074.25 L232.18,1073.99 L233.66,1073.73 L235.14,1073.47 L236.62,1073.20 L238.10,1072.94 L239.58,1072.67 L241.06,1072.40 L242.54,1072.13 L244.02,1071.86 L245.50,1071.59 L246.98,1071.32 L248.46,1071.05 L249.94,1070.77 L251.42,1070.50 L252.90,1070.22 L254.37,1069.94 L255.85,1069.66 L257.33,1069.38 L258.81,1069.10 L260.29,1068.82 L261.77,1068.53 L263.25,1068.25 L264.73,1067.96 L266.21,1067.68 L267.69,1067.39 L269.17,1067.10 L270.65,1066.81 L272.13,1066.52 L273.61,1066.23 L275.09,1065.94 L276.57,1065.65 L278.05,1065.35 L279.53,1065.06 L281.01,1064.77 L282.49,1064.47 L283.97,1064.17 L285.45,1063.88 L286.93,1063.58 L288.41,1063.28 L289.89,1062.98 L291.38,1062.68 L292.86,1062.38 L294.34,1062.08 L295.82,1061.78 L297.30,1061.48 L298.79,1061.18 L300.27,1060.88 L301.75,1060.57 L303.23,1060.27 L304.71,1059.96 L306.19,1059.65 L307.67,1059.34 L309.15,1059.02 L310.63,1058.70 L312.10,1058.38 L313.57,1058.05 L315.04,1057.71 L316.51,1057.37 L317.97,1057.02 L319.43,1056.67 L320.89,1056.30 L322.34,1055.93 L323.79,1055.55 L325.24,1055.17 L326.68,1054.77 L328.11,1054.36 L329.54,1053.95 L330.97,1053.52 L332.38,1053.08 L333.80,1052.62 L335.20,1052.16 L336.60,1051.68 L338.00,1051.19 L339.38,1050.69 L340.76,1050.17 L342.13,1049.63 L343.50,1049.08 L344.85,1048.52 L346.20,1047.94 L347.54,1047.34 L348.87,1046.73 L350.20,1046.10 L351.52,1045.46 L352.83,1044.81 L354.14,1044.14 L355.44,1043.46 L356.74,1042.77 L358.03,1042.07 L359.32,1041.35 L360.60,1040.63 L361.88,1039.89 L363.16,1039.15 L364.43,1038.39 L365.71,1037.63 L366.98,1036.86 L368.24,1036.09 L369.51,1035.30 L370.78,1034.51 L372.05,1033.71 L373.31,1032.91 L374.58,1032.10 L375.85,1031.29 L377.11,1030.47 L378.38,1029.65 L379.66,1028.83 L380.93,1028.00 L382.21,1027.18 L383.49,1026.35 L384.77,1025.51 L386.05,1024.68 L387.35,1023.85 L388.64,1023.02 L389.94,1022.19 L391.25,1021.36 L392.56,1020.53 L393.87,1019.71 L395.19,1018.89 L396.52,1018.08 L397.84,1017.27 L399.18,1016.47 L400.51,1015.68 L401.85,1014.91 L403.20,1014.14 L404.54,1013.39 L405.89,1012.65 L407.24,1011.92 L408.59,1011.22 L409.95,1010.53 L411.31,1009.86 L412.67,1009.20 L414.03,1008.57 L415.39,1007.96 L416.75,1007.37 L418.11,1006.80 L419.48,1006.24 L420.84,1005.70 L422.21,1005.16 L423.57,1004.64 L424.93,1004.12 L426.29,1003.61 L427.66,1003.11 L429.02,1002.60 L430.37,1002.10 L431.73,1001.59 L433.09,1001.09 L434.44,1000.57 L435.79,1000.05 L437.14,999.53 L438.48,998.99 L439.82,998.44 L441.15,997.88 L442.48,997.30 L443.81,996.71 L445.12,996.10 L446.43,995.47 L447.74,994.82 L449.03,994.14 L450.31,993.45 L451.58,992.73 L452.85,991.98 L454.10,991.20 L455.34,990.39 L456.56,989.56 L457.78,988.69 L458.98,987.78 L460.16,986.85 L461.33,985.88 L462.49,984.88 L463.63,983.86 L464.76,982.82 L465.88,981.75 L466.98,980.66 L468.07,979.56 L469.14,978.43 L470.20,977.30 L471.24,976.15 L472.28,974.99 L473.29,973.82 L474.29,972.65 L475.28,971.47 L476.26,970.29 L477.22,969.10 L478.17,967.91 L479.10,966.72 L480.03,965.53 L480.94,964.33 L481.84,963.13 L482.73,961.92 L483.61,960.71 L484.47,959.50 L485.33,958.29 L486.18,957.07 L487.02,955.85 L487.86,954.62 L488.68,953.39 L489.50,952.16 L490.31,950.93 L491.11,949.69 L491.91,948.45 L492.70,947.21 L493.48,945.96 L494.27,944.71 L495.04,943.46 L495.81,942.20 L496.58,940.94 L497.35,939.68 L498.11,938.41 L498.87,937.15 L499.63,935.87 L500.38,934.60 L501.14,933.32 L501.89,932.04 L502.64,930.76 L503.40,929.47 L504.15,928.19 L504.91,926.89 L505.66,925.60 L506.42,924.30 L507.18,923.00 L507.94,921.70 L508.71,920.40 L509.47,919.09 L510.23,917.78 L510.99,916.46 L511.75,915.15 L512.51,913.83 L513.26,912.51 L514.02,911.18 L514.77,909.86 L515.52,908.53 L516.26,907.19 L517.01,905.86 L517.74,904.52 L518.47,903.18 L519.20,901.84 L519.92,900.50 L520.64,899.15 L521.35,897.80 L522.05,896.45 L522.75,895.10 L523.44,893.74 L524.12,892.38 L524.79,891.02 L525.45,889.65 L526.11,888.29 L526.75,886.92 L527.39,885.55 L528.01,884.18 L528.63,882.80 L529.23,881.42 L529.83,880.05 L530.42,878.66 L531.00,877.28 L531.57,875.89 L532.13,874.51 L532.68,873.11 L533.23,871.72 L533.76,870.33 L534.29,868.93 L534.81,867.53 L535.32,866.13 L535.82,864.73 L536.32,863.32 L536.81,861.92 L537.29,860.51 L537.77,859.10 L538.24,857.69 L538.70,856.27 L539.15,854.86 L539.60,853.44 L540.04,852.02 L540.47,850.60 L540.90,849.17 L541.33,847.75 L541.74,846.32 L542.15,844.89 L542.56,843.46 L542.96,842.03 L543.36,840.59 L543.74,839.16 L544.13,837.72 L544.51,836.28 L544.88,834.84 L545.25,833.40 L545.62,831.95 L545.98,830.51 L546.34,829.06 L546.69,827.61 L547.04,826.16 L547.39,824.71 L547.73,823.25 L548.07,821.80 L548.41,820.34 L548.74,818.88 L549.07,817.43 L549.39,815.96 L549.72,814.50 L550.04,813.04 L550.36,811.57 L550.67,810.11 L550.99,808.64 L551.30,807.17 L551.61,805.70 L551.92,804.23 L552.23,802.76 L552.53,801.28 L552.84,799.81 L553.14,798.33 L553.44,796.86 L553.74,795.38 L554.04,793.90 L554.34,792.42 L554.64,790.94 L554.94,789.45 L555.23,787.97 L555.53,786.49 L555.83,785.00 L556.12,783.52 L556.42,782.04 L556.72,780.55 L557.01,779.06 L557.31,777.58 L557.60,776.09 L557.90,774.61 L558.20,773.12 L558.49,771.64 L558.79,770.15 L559.09,768.67 L559.39,767.19 L559.69,765.70 L559.99,764.22 L560.29,762.74 L560.59,761.26 L560.89,759.78 L561.20,758.30 L561.50,756.82 L561.81,755.34 L562.12,753.87 L562.42,752.39 L562.74,750.92 L563.05,749.45 L563.36,747.98 L563.68,746.51 L564.00,745.04 L564.31,743.58 L564.64,742.11 L564.96,740.65 L565.29,739.19 L565.61,737.74 L565.94,736.28 L566.28,734.82 L566.61,733.37 L566.95,731.92 L567.29,730.47 L567.63,729.02 L567.98,727.57 L568.33,726.12 L568.68,724.67 L569.04,723.23 L569.39,721.78 L569.76,720.34 L570.12,718.89 L570.49,717.45 L570.86,716.00 L571.24,714.56 L571.62,713.11 L572.00,711.67 L572.38,710.23 L572.77,708.78 L573.17,707.34 L573.57,705.89 L573.97,704.45 L574.38,703.00 L574.79,701.56 L575.20,700.11 L575.62,698.66 L576.05,697.21 L576.48,695.76 L576.91,694.31 L577.35,692.86 L577.79,691.41 L578.24,689.95 L578.70,688.50 L579.17,687.05 L579.64,685.61 L580.12,684.16 L580.60,682.72 L581.10,681.28 L581.61,679.84 L582.12,678.41 L582.65,676.99 L583.19,675.57 L583.74,674.15 L584.30,672.75 L584.87,671.35 L585.46,669.96 L586.06,668.57 L586.67,667.20 L587.30,665.83 L587.94,664.48 L588.60,663.13 L589.28,661.80 L589.97,660.48 L590.68,659.17 L591.40,657.87 L592.14,656.59 L592.91,655.32 L593.69,654.06 L594.49,652.82 L595.30,651.60 L596.14,650.39 L597.01,649.20 L597.89,648.02 L598.79,646.86 L599.72,645.72 L600.67,644.60 L601.64,643.50 L602.64,642.42 L603.66,641.35 L604.70,640.31 L605.77,639.29 L606.87,638.29 L607.99,637.32 L609.14,636.37 L610.32,635.44 L611.53,634.53 L612.76,633.65 L614.02,632.80 L615.31,631.97 L616.64,631.16 L617.99,630.39 L619.37,629.64 L620.78,628.92 L622.23,628.23 L623.71,627.56 L625.22,626.93" fill="none" stroke="#ff0010" stroke-width="3.6" stroke-linejoin="round"/>
<circle cx="164.0" cy="1091.5" r="6.0" fill="#e0fc14" stroke="#111" stroke-width="1.4"/>
<line x1="163.9" y1="1084" x2="163.9" y2="1090.5" stroke="#000" stroke-width="3.6" stroke-dasharray="3.9 3.72" stroke-dashoffset="5.70"/>
<circle cx="217.4" cy="1090.0" r="6.0" fill="#e0fc14" stroke="#111" stroke-width="1.4"/>
<circle cx="523.3" cy="805.4" r="6.0" fill="#e0fc14" stroke="#111" stroke-width="1.4"/>
<line x1="78.4" y1="642.3" x2="122" y2="642.3" stroke="#000" stroke-width="3.6" stroke-linecap="round"/>
<line x1="78.4" y1="666.9" x2="122" y2="666.9" stroke="#0026ff" stroke-width="3.6" stroke-linecap="round"/>
<line x1="78.4" y1="691.6" x2="122" y2="691.6" stroke="#ff0010" stroke-width="3.6" stroke-linecap="round"/>
<text x="127.7" y="648.9" font-size="19.72" >Damage model curve based on our paper algorithm</text>
<text x="127.7" y="673.5" font-size="19.72" >Damage model curve based on Song et al.[4]</text>
<text x="127.7" y="697.9" font-size="19.72" >Damage model curve based on L.M.Kachanov et al.[14]</text>
<text x="64.5" y="1100.0" font-size="22.5" text-anchor="end">0. 0</text>
<text x="64.5" y="1007.28" font-size="22.5" text-anchor="end">0. 2</text>
<text x="64.5" y="914.56" font-size="22.5" text-anchor="end">0. 4</text>
<text x="64.5" y="821.8399999999999" font-size="22.5" text-anchor="end">0. 6</text>
<text x="64.5" y="729.1199999999999" font-size="22.5" text-anchor="end">0. 8</text>
<text x="64.5" y="636.4" font-size="22.5" text-anchor="end">1. 0</text>
<text x="74.2" y="1119.5" font-size="22.5" text-anchor="middle">0. 0</text>
<text x="146.2" y="1119.5" font-size="22.5" text-anchor="middle">0. 2</text>
<text x="218.2" y="1119.5" font-size="22.5" text-anchor="middle">0. 4</text>
<text x="290.20000000000005" y="1119.5" font-size="22.5" text-anchor="middle">0. 6</text>
<text x="362.2" y="1119.5" font-size="22.5" text-anchor="middle">0. 8</text>
<text x="434.2" y="1119.5" font-size="22.5" text-anchor="middle">1. 0</text>
<text x="506.20000000000005" y="1119.5" font-size="22.5" text-anchor="middle">1. 2</text>
<text x="578.2" y="1119.5" font-size="22.5" text-anchor="middle">1. 4</text>
<text x="650.2" y="1119.5" font-size="22.5" text-anchor="middle">1. 6</text>
<text x="75.5" y="797.2" font-size="21.8" >Stable Evolution</text>
<text x="266.5" y="796.8" font-size="21.85" >Intensified&#160; Evolution</text>
<text x="563.3" y="999.6" font-size="21.7" >Residual</text>
<text x="562.8" y="1026.6" font-size="21.7" >Strength</text>
<text x="89.1" y="986.0" font-size="22" font-style="italic">D=0</text>
<text x="159.8" y="986.0" font-size="21.5" font-style="italic">ε</text>
<text x="170.2" y="992.4" font-size="16.5" font-style="italic">d</text>
<text x="345.1" y="1152.0" font-size="19" >ε</text>
<text x="353.9" y="1151.9" font-size="23" >/%</text>
<text x="295.3" y="1182.5" font-size="27" font-weight="bold">(b)</text>
<text x="334.6" y="1182.5" font-size="26.9">soft rock</text>
<text transform="translate(16.9,941.3) rotate(-90)" font-size="22.4">Damage value(<tspan font-style="italic">D</tspan><tspan font-style="italic" font-size="16.5" dy="5.5">f</tspan><tspan dy="-5.5">)</tspan></text>
</svg>
</body></html>
